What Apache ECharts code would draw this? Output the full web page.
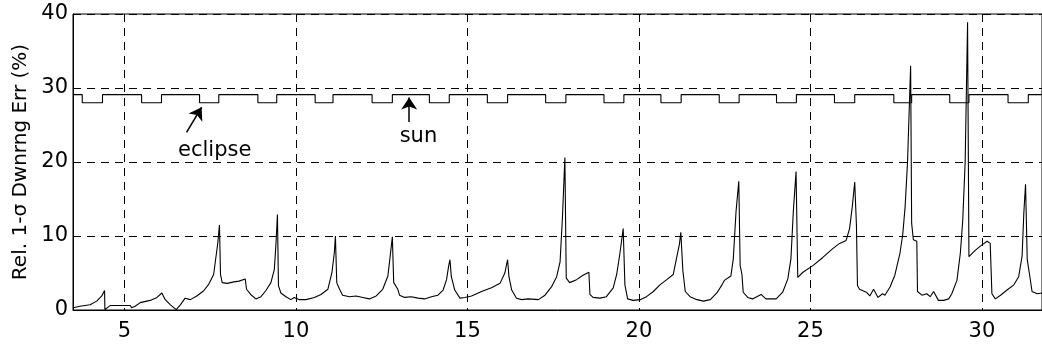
<!DOCTYPE html>
<html>
<head>
<meta charset="utf-8">
<script src="https://cdn.jsdelivr.net/npm/echarts@6/dist/echarts.min.js"></script>
<style>
  html, body { margin: 0; padding: 0; background: #fff; }
  #main { width: 1042px; height: 350px; }
</style>
</head>
<body>
<div id="main"></div>
<script>
// lower curve: relative 1-sigma downrange error (%)
const errX = [3.51, 3.70, 4.00, 4.19, 4.34, 4.42, 4.43, 4.47, 4.58, 5.17, 5.21, 5.31, 5.46, 5.75, 5.95, 6.09, 6.19, 6.34, 6.51, 6.63,
  6.77, 6.92, 7.11, 7.31, 7.46, 7.60, 7.68, 7.72, 7.77, 7.80, 7.85, 8.00, 8.19, 8.34, 8.52, 8.56, 8.68, 8.83, 8.98, 9.12,
  9.27, 9.37, 9.42, 9.46, 9.49, 9.56, 9.71, 9.85, 9.95, 10.10, 10.29, 10.54, 10.73, 10.93, 11.05, 11.12, 11.15, 11.19, 11.27, 11.36,
  11.56, 11.75, 11.95, 12.14, 12.34, 12.53, 12.68, 12.75, 12.81, 12.85, 12.97, 13.02, 13.17, 13.36, 13.56, 13.75, 13.95, 14.14, 14.29, 14.39,
  14.45, 14.49, 14.53, 14.63, 14.78, 14.92, 15.12, 15.41, 15.70, 15.95, 16.09, 16.17, 16.21, 16.29, 16.43, 16.58, 16.77, 17.07, 17.26, 17.46,
  17.60, 17.70, 17.77, 17.84, 17.88, 17.98, 18.18, 18.37, 18.54, 18.57, 18.66, 18.86, 19.05, 19.25, 19.35, 19.44, 19.54, 19.59, 19.67, 19.83,
  20.03, 20.22, 20.42, 20.61, 20.81, 21.00, 21.10, 21.18, 21.22, 21.28, 21.35, 21.49, 21.69, 21.88, 22.08, 22.27, 22.42, 22.49, 22.68, 22.75,
  22.83, 22.91, 22.95, 23.00, 23.04, 23.17, 23.31, 23.56, 23.70, 24.00, 24.19, 24.34, 24.43, 24.50, 24.58, 24.63, 24.78, 25.07, 25.36, 25.65,
  25.85, 26.04, 26.14, 26.22, 26.29, 26.34, 26.37, 26.43, 26.63, 26.73, 26.84, 26.97, 27.10, 27.17, 27.32, 27.46, 27.61, 27.69, 27.76, 27.83,
  27.92, 27.95, 28.00, 28.10, 28.12, 28.25, 28.39, 28.49, 28.59, 28.73, 28.88, 29.03, 29.12, 29.27, 29.37, 29.44, 29.51, 29.58, 29.62, 29.66,
  29.81, 30.00, 30.15, 30.24, 30.29, 30.39, 30.54, 30.73, 30.93, 31.07, 31.17, 31.22, 31.27, 31.32, 31.39, 31.46, 31.61, 31.75];
const errY = [0.3, 0.5, 0.7, 1.2, 1.9, 2.65, 0.05, 0, 0.6, 0.6, 0.3, 0.5, 1.0, 1.3, 1.7, 2.3, 1.4, 0.7, 0.05, 0.7,
  1.6, 1.4, 1.9, 2.6, 3.5, 4.8, 7.6, 9.0, 11.5, 4.8, 3.7, 3.6, 3.8, 3.9, 4.2, 2.8, 2.1, 1.5, 1.8, 2.6,
  3.7, 5.5, 9.2, 12.9, 3.3, 2.3, 1.8, 1.4, 1.7, 1.4, 1.4, 1.7, 2.1, 2.8, 5.1, 7.8, 10.0, 3.7, 2.8, 2.0,
  1.8, 1.9, 1.7, 1.5, 1.9, 2.8, 4.6, 7.4, 9.9, 3.7, 2.8, 2.0, 1.7, 1.8, 1.6, 1.5, 1.8, 2.0, 2.7, 4.1,
  5.9, 6.8, 4.5, 2.7, 1.6, 1.7, 1.9, 2.5, 3.0, 3.6, 5.0, 6.8, 4.5, 2.7, 1.6, 1.4, 1.5, 1.4, 2.0, 3.2,
  4.5, 6.5, 12.6, 20.6, 4.3, 3.7, 4.1, 4.7, 5.1, 2.1, 1.7, 1.6, 1.8, 3.0, 4.8, 7.5, 11.0, 3.4, 1.5, 1.3,
  1.4, 1.8, 2.5, 3.4, 4.1, 4.8, 7.1, 8.9, 10.5, 5.3, 2.5, 1.8, 1.4, 1.2, 1.4, 2.3, 3.4, 4.0, 4.6, 6.9,
  13.3, 17.4, 6.0, 4.9, 2.4, 1.7, 1.5, 2.1, 1.5, 1.5, 2.4, 4.2, 6.9, 13.3, 18.7, 4.4, 5.1, 6.0, 7.1, 8.3,
  9.0, 9.4, 11.0, 14.0, 17.3, 11.5, 3.3, 2.8, 2.4, 1.9, 2.8, 1.7, 2.2, 2.0, 3.1, 4.7, 7.7, 10.2, 14.0, 20.0,
  33.0, 11.7, 9.5, 9.3, 2.5, 2.0, 2.2, 1.8, 2.5, 1.3, 1.3, 1.5, 2.2, 4.0, 7.7, 12.2, 20.0, 38.9, 7.2, 7.2,
  8.1, 8.8, 9.3, 9.0, 2.2, 1.5, 2.0, 2.7, 3.4, 4.5, 7.3, 13.1, 17.0, 6.8, 4.7, 2.5, 2.2, 2.3];

// upper step curve: sun / eclipse intervals
const eclipseStart = [3.77, 5.50, 7.19, 8.89, 10.56, 12.22, 13.89, 15.58, 17.28, 18.98, 20.64, 22.34, 24.01, 25.70, 27.43, 29.06, 30.76];
const eclipseEnd   = [4.36, 6.08, 7.75, 9.44, 11.08, 12.81, 14.47, 16.17, 17.87, 19.56, 21.23, 22.92, 24.59, 26.29, 27.95, 29.62, 31.35];
const stepLevels = [29.1, 28.0]; // sun, eclipse

const xTicks = [5, 10, 15, 20, 25, 30];
const xRange = [3.5, 31.75];
const yRange = [0, 40];

// annotation text and arrows (data coords)
const noteText = ['eclipse', 'sun'];
const noteAt = [[7.63, 21.5], [13.57, 23.4]];
const arrowFrom = [[6.81, 24.0], [13.30, 25.4]];
const arrowTo = [[7.25, 27.4], [13.30, 28.7]];

function buildSteps() {
  const pts = [[xRange[0], stepLevels[0]]];
  eclipseStart.forEach(function (s, i) {
    pts.push([s, stepLevels[0]], [s, stepLevels[1]]);
    pts.push([eclipseEnd[i], stepLevels[1]], [eclipseEnd[i], stepLevels[0]]);
  });
  pts.push([xRange[1], stepLevels[0]]);
  return pts;
}

function setOption(chart) {
  const font = 'DejaVu Sans, Arial, sans-serif';
  const dashed = { color: '#000', width: 1, type: [8, 6] };
  const option = {
    animation: false,
    backgroundColor: '#fff',
    grid: {
      left: 73, right: 0, top: 14, bottom: 40,
      show: true, borderColor: '#000', borderWidth: 1
    },
    xAxis: {
      type: 'value',
      min: xRange[0],
      max: xRange[1],
      axisLine: { onZero: false, lineStyle: { color: '#000', width: 1 } },
      axisTick: { show: false, customValues: xTicks },
      axisLabel: { customValues: xTicks, color: '#000', fontSize: 21, fontFamily: font, margin: 11 },
      splitLine: { show: true, lineStyle: dashed }
    },
    yAxis: {
      type: 'value',
      min: yRange[0],
      max: yRange[1],
      interval: 10,
      name: 'Rel. 1-σ Dwnrng Err (%)',
      nameLocation: 'middle',
      nameGap: 40,
      nameTextStyle: { color: '#000', fontSize: 20, fontFamily: font },
      axisLine: { show: true, lineStyle: { color: '#000', width: 1 } },
      axisTick: { show: false },
      axisLabel: { color: '#000', fontSize: 21, fontFamily: font, margin: 5 },
      splitLine: { show: true, lineStyle: dashed }
    },
    series: [
      {
        name: 'err',
        type: 'line',
        data: errX.map(function (x, i) { return [x, errY[i]]; }),
        showSymbol: false,
        lineStyle: { color: '#000', width: 1.1 }
      },
      {
        name: 'sun',
        type: 'line',
        data: buildSteps(),
        showSymbol: false,
        lineStyle: { color: '#000', width: 1.1 },
        markLine: {
          silent: true,
          symbol: ['none', 'arrow'],
          symbolSize: 12,
          lineStyle: { color: '#000', width: 1.5, type: 'solid' },
          label: { show: false },
          data: arrowFrom.map(function (p, i) {
            return [{ coord: p }, { coord: arrowTo[i] }];
          })
        },
        markPoint: {
          silent: true,
          symbol: 'circle',
          symbolSize: 0,
          label: {
            show: true,
            color: '#000',
            fontSize: 21,
            fontFamily: font,
            formatter: function (p) { return p.name; }
          },
          data: noteText.map(function (t, i) {
            return { name: t, coord: noteAt[i] };
          })
        }
      }
    ]
  };
  chart.setOption(option);
}

const chart = echarts.init(document.getElementById('main'), null, { renderer: 'canvas' });
setOption(chart);
</script>
</body>
</html>
